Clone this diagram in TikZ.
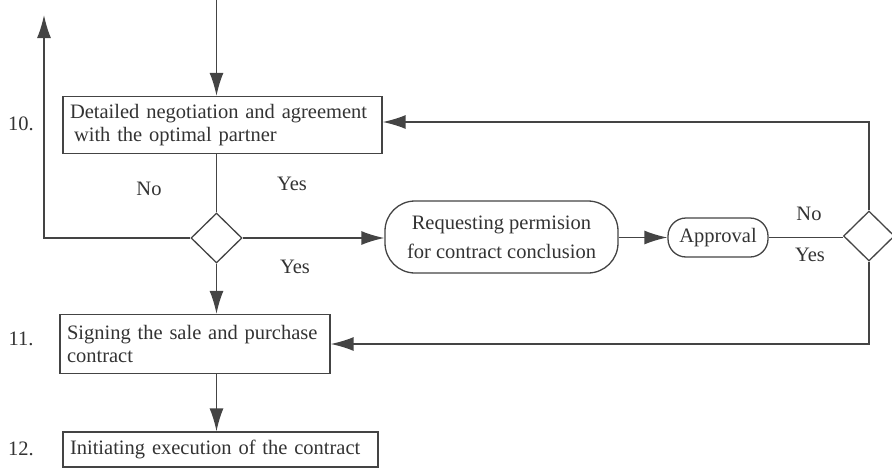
\documentclass[tikz,border=0pt]{standalone}
\usepackage{fontspec}
\setmainfont{Liberation Serif}
\usetikzlibrary{arrows.meta,shapes.geometric}

\definecolor{ink}{HTML}{444444}
\definecolor{txt}{HTML}{333333}

\tikzset{
  every node/.style={text=txt, font=\fontsize{20.5}{23.5}\selectfont},
  conn/.style={draw=ink, line width=1.5pt},
  arr/.style={conn, -{Latex[length=23pt,width=14pt]}},
  stepbox/.style={draw=ink, line width=1.3pt, rectangle, align=left,
                  inner xsep=7pt, inner ysep=0pt},
  roundbox/.style={draw=ink, line width=1.3pt, rectangle, align=center,
                   inner sep=0pt},
  decision/.style={draw=ink, line width=1.3pt, diamond, inner sep=0pt,
                   minimum width=51pt, minimum height=50pt},
  lbl/.style={inner sep=0pt, anchor=base}
}

\begin{document}
\begin{tikzpicture}[x=1pt, y=-1pt]
  \useasboundingbox (0,0) rectangle (892,469);
  \clip (0,0) rectangle (892,469);

  % process steps
  \node[stepbox, text width=305pt, minimum height=57pt] (b10) at (222.5,125)
    {Detailed negotiation and agreement\\\hspace*{4pt}with the optimal partner};
  \node[stepbox, text width=256pt, minimum height=59pt,
        font=\fontsize{20.5}{22.5}\selectfont] (b11) at (195,344)
    {Signing the sale and purchase\\contract};
  \node[stepbox, text width=301pt, minimum height=35pt] (b12) at (220.5,449.5)
    {Initiating execution of the contract};

  % step numbers
  \node[lbl] (n10) at (21,130) {10.};
  \node[lbl] (n11) at (21,345) {11.};
  \node[lbl] (n12) at (21,455) {12.};

  % decisions
  \node[decision] (d1) at (216.5,238) {};
  \node[decision] (d2) at (869,236) {};

  % permission request and approval
  \node[roundbox, rounded corners=30pt, minimum width=233pt, minimum height=72pt,
        font=\fontsize{20.5}{29}\selectfont]
    (req) at (501.5,237) {Requesting permision\\for contract conclusion};
  \node[roundbox, rounded corners=18pt, minimum width=100pt, minimum height=39pt]
    (appr) at (718,237.5) {Approval};

  % free ends of the open connectors
  \coordinate (topin) at (216.5,0);
  \coordinate (leftup) at (44,15);

  % branch labels
  \node[lbl] (no1)  at (149,195) {No};
  \node[lbl] (yes1) at (292,190) {Yes};
  \node[lbl] (yes2) at (295,273) {Yes};
  \node[lbl] (no2)  at (809,220) {No};
  \node[lbl] (yes3) at (810,261) {Yes};

  % connectors
  \draw[arr] (topin) -- (topin |- b10.north);
  \draw[conn] (d1.north |- b10.south) -- (d1.north);
  \draw[arr] (d1.west) -| (leftup);
  \draw[arr] (d1.east) -- (req.west |- d1.east);
  \draw[arr] (req.east |- appr.west) -- (appr.west);
  \draw[conn] (appr.east) -- (d2.west |- appr.east);
  \draw[arr] (d2.north) |- ([yshift=3pt]b10.east);
  \draw[arr] (d2.south) |- (b11.east);
  \draw[arr] (d1.south) -- (d1.south |- b11.north);
  \draw[arr] (d1.south |- b11.south) -- (d1.south |- b12.north);
\end{tikzpicture}
\end{document}
